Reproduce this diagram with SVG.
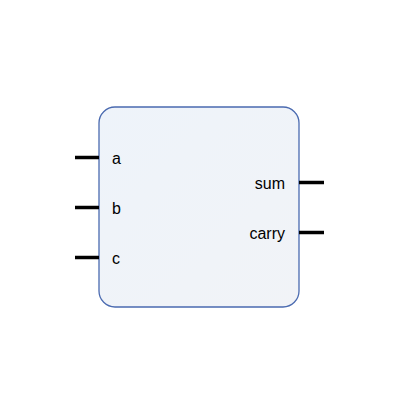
<svg xmlns="http://www.w3.org/2000/svg" width="400" height="400" viewBox="0 0 400 400">
<defs>
<linearGradient id="g" x1="0" y1="0" x2="1" y2="1">
<stop offset="0" stop-color="#EEF3FA"/>
<stop offset="1" stop-color="#F1F3F7"/>
</linearGradient>
<style>
.pin{stroke:#000;stroke-width:3.5;}
.lbl{font-family:"Liberation Sans",Arial,sans-serif;font-size:16px;fill:#000;}
</style>
</defs>
<rect width="400" height="400" fill="#fff"/>
<g id="block">
<rect x="99" y="107" width="200" height="200" rx="16" ry="16" fill="url(#g)" stroke="#4A6AB0" stroke-width="1.3"/>
<text class="lbl" x="112" y="164">a</text>
<text class="lbl" x="112" y="214">b</text>
<text class="lbl" x="112" y="264">c</text>
<text class="lbl" x="285" y="189" text-anchor="end">sum</text>
<text class="lbl" x="285" y="239" text-anchor="end">carry</text>
</g>
<g id="connectors">
<line class="pin" x1="75" y1="157.5" x2="99" y2="157.5"/>
<line class="pin" x1="75" y1="207.5" x2="99" y2="207.5"/>
<line class="pin" x1="75" y1="257.5" x2="99" y2="257.5"/>
<line class="pin" x1="299" y1="182.5" x2="324" y2="182.5"/>
<line class="pin" x1="299" y1="232.5" x2="324" y2="232.5"/>
</g>
</svg>
